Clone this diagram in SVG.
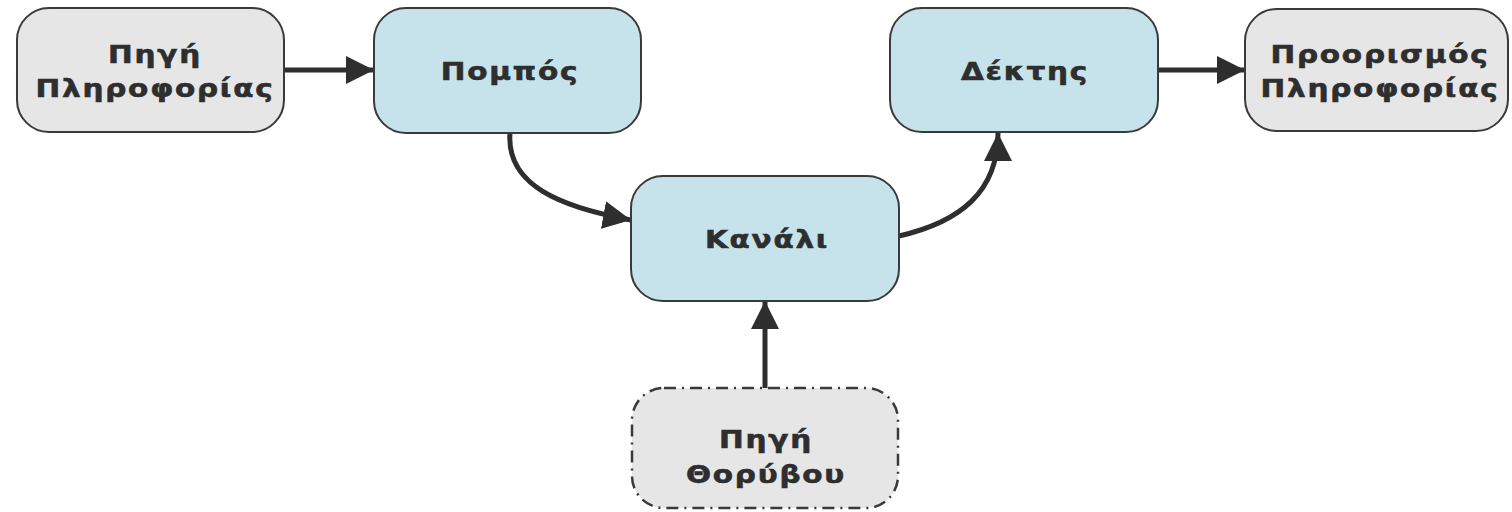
<svg xmlns="http://www.w3.org/2000/svg" width="1512" height="512" viewBox="0 0 1512 512">
<style>
.box{stroke:#3a3a3a;stroke-width:2}
.gray{fill:#e6e6e6}
.blue{fill:#c6e3ec}
.noise{fill:#e6e6e6;stroke:#3a3a3a;stroke-width:2.5;stroke-dasharray:12 6 2 6}
.t{font-family:"DejaVu Sans",Verdana,sans-serif;font-weight:bold;font-size:25px;fill:#2e2e2e;stroke:#2e2e2e;stroke-width:0.6;text-anchor:middle;letter-spacing:1.5px}
.c{fill:none;stroke:#2e2e2e;stroke-width:5;marker-end:url(#ah)}
</style>
<defs>
<marker id="ah" markerUnits="userSpaceOnUse" markerWidth="30" markerHeight="30" refX="28" refY="14" orient="auto" viewBox="0 0 30 30">
<path d="M0,0 L28,14 L0,28 z" fill="#2e2e2e"/>
</marker>
</defs>
<g id="connectors">
<path class="c" d="M284,70 L374,70"/>
<path class="c" d="M510,133 C506,185 560,207 631,220"/>
<path class="c" d="M899,236 C960,222 998,192 998,133"/>
<path class="c" d="M1158,70 L1245,70"/>
<path class="c" d="M765,388 L765,301"/>
</g>
<g id="source">
<rect class="box gray" x="17" y="8" width="267" height="124" rx="32"/>
<g transform="translate(155,0) scale(1.18,1)">
<text class="t" x="0" y="63">Πηγή</text>
<text class="t" x="0" y="97">Πληροφορίας</text>
</g>
</g>
<g id="transmitter">
<rect class="box blue" x="374" y="8" width="267" height="125" rx="32"/>
<g transform="translate(510,0) scale(1.18,1)">
<text class="t" x="0" y="80">Πομπός</text>
</g>
</g>
<g id="channel">
<rect class="box blue" x="631" y="176" width="268" height="125" rx="32"/>
<g transform="translate(767,0) scale(1.18,1)">
<text class="t" x="0" y="248">Κανάλι</text>
</g>
</g>
<g id="receiver">
<rect class="box blue" x="890" y="8" width="268" height="124" rx="32"/>
<g transform="translate(1025,0) scale(1.18,1)">
<text class="t" x="0" y="80">Δέκτης</text>
</g>
</g>
<g id="destination">
<rect class="box gray" x="1245" y="9" width="263" height="122" rx="32"/>
<g transform="translate(1380,0) scale(1.18,1)">
<text class="t" x="0" y="63">Προορισμός</text>
<text class="t" x="0" y="97">Πληροφορίας</text>
</g>
</g>
<g id="noise">
<rect class="noise" x="632" y="388" width="266" height="120" rx="32"/>
<g transform="translate(766,0) scale(1.18,1)">
<text class="t" x="0" y="448">Πηγή</text>
<text class="t" x="0" y="483">Θορύβου</text>
</g>
</g>
</svg>
